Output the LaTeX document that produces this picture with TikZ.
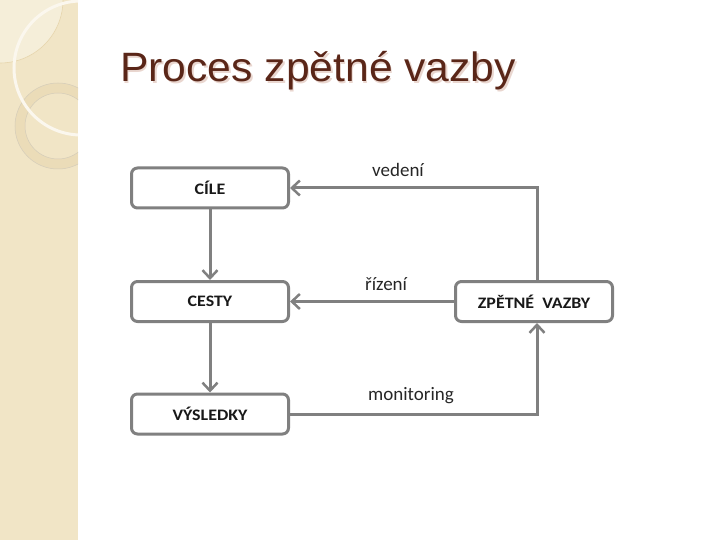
\documentclass[tikz,border=0pt]{standalone}
\usepackage{fontspec}
\setmainfont[FakeStretch=1.04]{Liberation Sans}
\newfontfamily\carlito{Carlito}
\newfontfamily\carlitowide[FakeStretch=1.12]{Carlito}
\usetikzlibrary{arrows.meta,positioning}
\definecolor{strip}{HTML}{F1E5C6}
\definecolor{stripdark}{HTML}{E6D5AC}
\definecolor{linegray}{HTML}{808080}
\definecolor{titlebrown}{HTML}{5A2618}
\definecolor{titleshadow}{HTML}{E9D6CF}
\tikzset{
  stepbox/.style={draw=linegray, line width=3pt, rounded corners=6pt, fill=white,
    minimum width=157pt, minimum height=40pt, inner sep=0pt,
    font=\carlitowide\bfseries\fontsize{16}{18}\selectfont, text=black!90},
  conn/.style={draw=linegray, line width=3pt,
    -{Straight Barb[length=8pt,width=15pt,line width=2.5pt]}},
  lbl/.style={font=\carlito\fontsize{19}{21}\selectfont, text=black!85, inner sep=0pt, anchor=base west},
  titletext/.style={anchor=base west, inner sep=0pt, font=\fontsize{41}{46}\selectfont},
}
\begin{document}
\begin{tikzpicture}[x=1pt, y=-1pt]
    \useasboundingbox (0,0) rectangle (720,540);
    % levy pruh
    \fill[strip] (0,0) rectangle (78,540);
    \begin{scope}
      \clip (0,0) rectangle (78,540);
      \fill[white, opacity=0.35] (0,0) circle (63);
      \draw[stripdark, line width=0.6pt] (0,0) circle (63);
      \fill[stripdark, opacity=0.5, even odd rule] (58,126) circle (43) (58,126) circle (33);
      \draw[stripdark!80!black!60, line width=0.5pt] (58,126) circle (43) (58,126) circle (33);
      \draw[white!70!strip, line width=3pt] (81,68) circle (67);
    \end{scope}
    % nadpis
    \node[titletext, text=titleshadow] (titleshadow) at (121.5,83.5) {Proces zpětné vazby};
    \node[titletext, text=titlebrown] (title) at (120,82) {Proces zpětné vazby};
    % bloky
    \node[stepbox] (cile) at (210,188) {CÍLE};
    \node[stepbox] (cesty) at (210,301.5) {CESTY};
    \node[stepbox] (vysledky) at (210,414) {VÝSLEDKY};
    \node[stepbox] (zpetne) at (534,301.5) {ZPĚTNÉ\ \ VAZBY};
    % spojnice
    \draw[conn] (cile) -- (cesty);
    \draw[conn] (cesty) -- (vysledky);
    \draw[conn] ([xshift=3pt]zpetne.north) |- (cile.east);
    \draw[conn] (zpetne) -- (cesty);
    \draw[conn] (vysledky.east) -| ([xshift=3pt]zpetne.south);
    % popisky
    \node[lbl] (vedeni) at (372,177) {vedení};
    \node[lbl] (rizeni) at (365,290) {řízení};
    \node[lbl] (monitoring) at (368,400) {monitoring};
  \end{tikzpicture}
\end{document}
